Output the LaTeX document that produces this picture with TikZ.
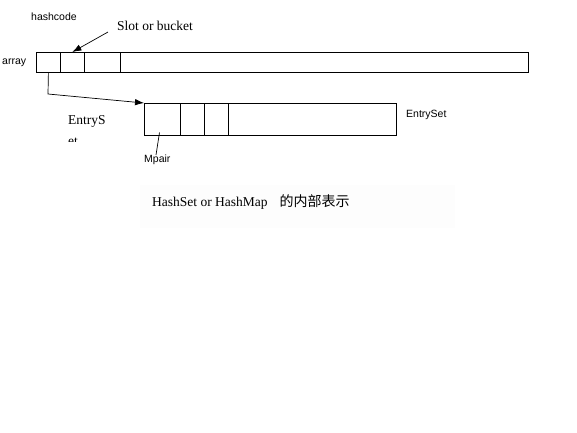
\documentclass[tikz,border=0pt]{standalone}
\usepackage{fontspec}
\setmainfont{Liberation Serif}
\setsansfont{Liberation Sans}
\newfontfamily\cjk{Noto Sans CJK SC}
\usetikzlibrary{arrows.meta}
\tikzset{
  cell/.style={draw=black, line width=0.8pt, inner sep=0pt, anchor=north west, minimum height=#1},
  lab/.style={font=\sffamily\fontsize{10.5}{12}\selectfont, inner sep=0pt},
  serif/.style={font=\rmfamily\fontsize{13.5}{16}\selectfont, inner sep=0pt},
  conn/.style={line width=0.7pt, -{Latex[length=9pt,width=6.5pt]}},
}
\begin{document}
\begin{tikzpicture}[x=1pt,y=-1pt]
\useasboundingbox (0,0) rectangle (577,432);
% caption background
\fill[black!0.8] (140,185) rectangle (455,228);
% array cells
\node[cell=20pt, minimum width=24pt] (a1) at (36,52) {};
\node[cell=20pt, minimum width=24pt] (a2) at (60,52) {};
\node[cell=20pt, minimum width=36pt] (a3) at (84,52) {};
\node[cell=20pt, minimum width=408pt] (a4) at (120,52) {};
% entry set cells
\node[cell=32pt, minimum width=36pt] (e1) at (144,103) {};
\node[cell=32pt, minimum width=24pt] (e2) at (180,103) {};
\node[cell=32pt, minimum width=24pt] (e3) at (204,103) {};
\node[cell=32pt, minimum width=168pt] (e4) at (228,103) {};
% labels
\node[lab, anchor=west] (arr) at (2,63) {array};
\node[lab, anchor=west] (hc) at (31,17) {hashcode};
\node[serif, anchor=west] (slot) at (117,26) {Slot or bucket};
\node[lab, anchor=west] (es) at (406,115) {EntrySet};
\node[lab, anchor=west] (mp) at (144,160) {Mpair};
\node[serif, anchor=base west] (ent) at (68,124) {EntryS};
\begin{scope}
\clip (60,128) rectangle (125,141);
\node[serif, anchor=base west] (ent2) at (68,145) {et};
\end{scope}
\node[serif, anchor=west] (cap) at (152,202) {HashSet or HashMap\hspace{12pt}{\cjk\fontsize{14}{16}\selectfont 的内部表示}};
% connectors
\coordinate (s) at (108,32);
\draw[conn] (s) -- (a2.north);
\coordinate (bend) at (48,94);
\draw[conn] (a1.south) -- (bend) -- (e1.north west);
\coordinate (mpin) at (159.5,132.5);
\draw[line width=0.7pt] (mpin) -- (156,155);
\end{tikzpicture}
\end{document}
